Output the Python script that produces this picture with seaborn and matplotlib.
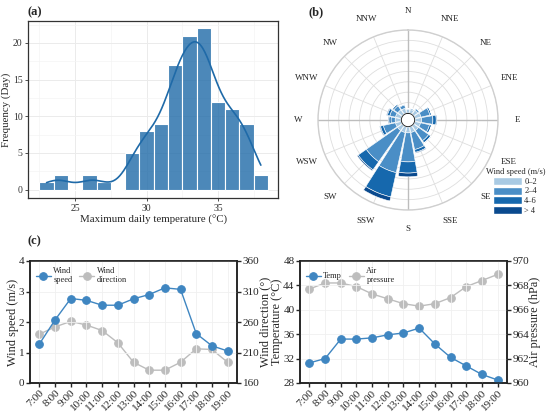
import numpy as np
import pandas as pd
import matplotlib
matplotlib.use('Agg')
import matplotlib.pyplot as plt
from matplotlib.patches import Patch
import seaborn as sns

# (a) histogram of maximum daily temperature, one value per 1 degC bin
temp_bins = [23, 24, 25, 26, 27, 28, 29, 30, 31, 32, 33, 34, 35, 36, 37, 38]
temp_days = [1, 2, 0, 2, 1, 0, 5, 8, 9, 17, 21, 22, 12, 11, 9, 2]

# (b) wind rose, frequency per direction and wind-speed class
directions = ['N', 'NNE', 'NE', 'ENE', 'E', 'ESE', 'SE', 'SSE',
              'S', 'SSW', 'SW', 'WSW', 'W', 'WNW', 'NW', 'NNW']
speed_classes = ['0–2', '2–4', '4–6', '> 4']
freq_0_2 = [0.8, 0.9, 1.2, 1.5, 1.6, 1.4, 1.4, 1.4, 1.4, 1.4, 1.4, 1.4, 1.4, 1.4, 1.3, 1.2]
freq_2_4 = [0.2, 0.3, 0.5, 2.2, 2.7, 2.2, 3.0, 4.2, 7.0, 9.9, 9.2, 3.0, 1.0, 1.4, 1.2, 0.8]
freq_4_6 = [0.0, 0.0, 0.0, 0.4, 0.8, 0.5, 0.6, 0.7, 2.7, 6.0, 2.4, 0.7, 0.5, 0.6, 0.4, 0.2]
freq_gt4 = [0.0, 0.0, 0.0, 0.0, 0.2, 0.0, 0.1, 0.2, 0.9, 1.0, 0.3, 0.2, 0.2, 0.2, 0.0, 0.0]

# (c) hourly means
hours = ['7:00', '8:00', '9:00', '10:00', '11:00', '12:00', '13:00',
         '14:00', '15:00', '16:00', '17:00', '18:00', '19:00']
wind_speed = [1.28, 2.07, 2.77, 2.71, 2.55, 2.55, 2.76, 2.90, 3.12, 3.07, 1.62, 1.22, 1.05]
wind_dir = [240, 252, 261, 255, 246, 226, 194, 181, 181, 194, 216, 215, 194]
air_temp = [31.3, 32.0, 35.2, 35.2, 35.4, 35.9, 36.2, 37.0, 34.4, 32.2, 30.8, 29.4, 28.5]
air_pres = [967.7, 968.2, 968.2, 967.9, 967.3, 966.9, 966.5, 966.3, 966.5, 967.0, 967.9, 968.4, 968.9]

sns.set_theme(style='ticks')
plt.rcParams['font.family'] = ['Liberation Serif', 'DejaVu Serif']

W, H = 550, 420
fig = plt.figure(figsize=(5.5, 4.2), dpi=100)


def box(x0, y0, x1, y1):
    return [x0 / W, 1 - y1 / H, (x1 - x0) / W, (y1 - y0) / H]


# ---------- (a) ----------
ax_a = fig.add_axes(box(28, 21, 278, 198))
sns.histplot(x=temp_bins, weights=temp_days, binwidth=1, binrange=(22.5, 38.5),
             kde=True, color='#1f6aa8', alpha=0.8, edgecolor='white', linewidth=0.8,
             kde_kws={'bw_adjust': 0.42, 'cut': 0}, line_kws={'lw': 1.2}, ax=ax_a)
ax_a.set_xlim(21.7, 39.2)
ax_a.set_ylim(-1.15, 23.0)
ax_a.set_xticks([25, 30, 35])
ax_a.set_yticks([0, 5, 10, 15, 20])
ax_a.set_xticks([22.5, 27.5, 32.5, 37.5], minor=True)
ax_a.set_yticks([2.5, 7.5, 12.5, 17.5, 22.5], minor=True)
ax_a.grid(which='major', color='#ebebeb', lw=0.7)
ax_a.grid(which='minor', color='#f4f4f4', lw=0.5)
ax_a.set_axisbelow(True)
ax_a.tick_params(which='major', length=2.5, width=0.6, color='#333333',
                 labelsize=7, labelcolor='#333333', pad=1.5)
ax_a.tick_params(which='minor', length=0)
for s in ax_a.spines.values():
    s.set_color('#333333')
    s.set_linewidth(0.9)
ax_a.set_xlabel('Maximum daily temperature (°C)', fontsize=7.8, labelpad=2)
ax_a.set_ylabel('Frequency (Day)', fontsize=7.8, labelpad=1)
fig.text(27 / W, 1 - 12 / H, '(a)', fontsize=9, fontweight='bold', va='center')

# ---------- (b) ----------
ax_b = fig.add_axes(box(318, 30, 498, 210), projection='polar')
ax_b.set_theta_zero_location('N')
ax_b.set_theta_direction(-1)
theta = np.deg2rad(np.arange(len(directions)) * 22.5)
rose_colors = ['#a9cae3', '#4a8ec6', '#1668ad', '#0a4a8e']
bottom = np.zeros(len(directions))
for vals, col in zip([freq_0_2, freq_2_4, freq_4_6, freq_gt4], rose_colors):
    vals = np.array(vals)
    ax_b.bar(theta, vals, width=np.deg2rad(22.5) * 0.88, bottom=bottom,
             color=col, edgecolor='white', linewidth=0.4, zorder=3)
    bottom = bottom + vals
ax_b.set_rorigin(-1.7)
ax_b.set_ylim(0, 20)
ax_b.set_yticks(np.arange(2.5, 20.1, 2.5))
ax_b.set_yticklabels([])
ax_b.set_xticks(theta)
ax_b.set_xticklabels(directions, fontsize=6.5)
ax_b.tick_params(axis='x', pad=1)
ax_b.grid(color='#dedede', lw=0.6)
ax_b.spines['polar'].set_color('#cfcfcf')
ax_b.spines['polar'].set_linewidth(1.0)
for ang in [0, np.pi / 2, np.pi, 3 * np.pi / 2]:
    ax_b.plot([ang, ang], [0, 20], color='#bdbdbd', lw=1.0, zorder=2)
fig.text(308 / W, 1 - 12 / H, '(b)', fontsize=9, fontweight='bold', va='center')
handles = [Patch(facecolor=c, edgecolor='white') for c in rose_colors]
fig.legend(handles, speed_classes, title='Wind speed (m/s)', loc='lower right',
           bbox_to_anchor=(1.0, 1 - 220 / H), frameon=False, fontsize=6,
           title_fontsize=6, handlelength=3.4, handleheight=1.1,
           labelspacing=0.12, borderpad=0.1, handletextpad=0.3)

# ---------- (c) ----------
df = pd.DataFrame({'hour': hours, 'speed': wind_speed, 'dir': wind_dir,
                   'temp': air_temp, 'pres': air_pres})
blue, grey = '#3f86c1', '#bdbdbd'


def style_axes(ax):
    for s in ax.spines.values():
        s.set_color('#222222')
        s.set_linewidth(1.1)
    ax.tick_params(direction='out', length=3, width=1, labelsize=8, pad=1)


def hourly_panel(rect, left_col, right_col, left_lab, right_lab, left_ticks,
                 right_ticks, names):
    ax = fig.add_axes(rect)
    ax2 = ax.twinx()
    sns.lineplot(data=df, x='hour', y=left_col, marker='o', color=blue,
                 markersize=5.5, markeredgecolor=blue, lw=1.0, ax=ax, label=names[0],
                 legend=False)
    sns.lineplot(data=df, x='hour', y=right_col, marker='o', color=grey,
                 markersize=5.5, markeredgecolor=grey, lw=1.0, ax=ax2, label=names[1],
                 legend=False)
    ax.set_zorder(ax2.get_zorder() + 1)
    ax.patch.set_visible(False)
    ax.set_xlim(-0.6, len(hours) - 0.4)
    ax.set_ylim(left_ticks[0], left_ticks[-1])
    ax.set_yticks(left_ticks)
    ax2.set_ylim(right_ticks[0], right_ticks[-1])
    ax2.set_yticks(right_ticks)
    ax.grid(color='#f0f0f0', lw=0.6)
    ax.set_xlabel('')
    ax.set_ylabel(left_lab, fontsize=8.8, labelpad=0)
    ax2.set_ylabel(right_lab, fontsize=8.8, labelpad=0)
    for a in (ax, ax2):
        style_axes(a)
    ax.tick_params(axis='x', labelrotation=45)
    for t in ax.get_xticklabels():
        t.set_ha('right')
        t.set_rotation_mode('anchor')
    h1, l1 = ax.get_legend_handles_labels()
    h2, l2 = ax2.get_legend_handles_labels()
    ax.legend(h1 + h2, l1 + l2, loc='upper left', ncol=2, frameon=False,
              fontsize=6, handlelength=1.8, columnspacing=0.8, handletextpad=0.3,
              borderaxespad=0.3)
    return ax, ax2


hourly_panel(box(30, 261, 237, 383), 'speed', 'dir', 'Wind speed (m/s)',
             'Wind direction (°)', [0, 1, 2, 3, 4], [160, 210, 260, 310, 360],
             ['Wind\nspeed', 'Wind\ndirection'])
hourly_panel(box(300, 261, 507, 383), 'temp', 'pres', 'Temperature (°C)',
             'Air pressure (hPa)', [28, 32, 36, 40, 44, 48],
             [960, 962, 964, 966, 968, 970], ['Temp', 'Air\npressure'])
fig.text(27 / W, 1 - 241 / H, '(c)', fontsize=9, fontweight='bold', va='center')

fig.savefig('out.png', dpi=100)
